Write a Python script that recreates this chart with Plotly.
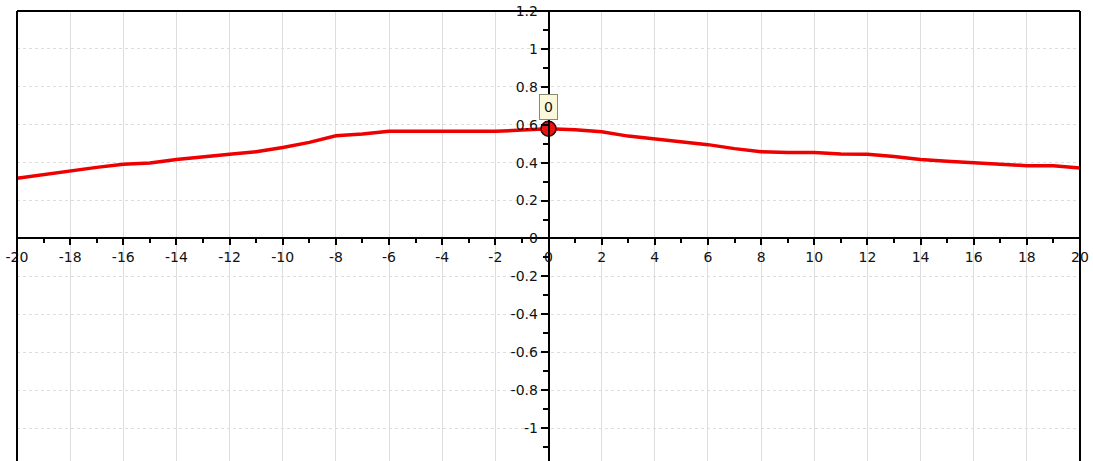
import plotly.graph_objects as go

x_vals = list(range(-20, 21))
y_vals = [0.317, 0.337, 0.358, 0.375, 0.391, 0.398, 0.416, 0.428, 0.444, 0.458,
          0.480, 0.507, 0.542, 0.551, 0.565, 0.565, 0.565, 0.565, 0.565, 0.572,
          0.579,
          0.574, 0.563, 0.540, 0.526, 0.510, 0.495, 0.474, 0.458, 0.453, 0.453,
          0.446, 0.444, 0.433, 0.416, 0.407, 0.398, 0.391, 0.384, 0.383, 0.372]

marker_x = [0]
marker_y = [0.579]
marker_label = "0"

x_ticks = list(range(-20, 21, 2))
x_ticktext = [str(v) for v in x_ticks]
y_ticks = [-1.0, -0.8, -0.6, -0.4, -0.2, 0.0, 0.2, 0.4, 0.6, 0.8, 1.0, 1.2]
y_ticktext = ["-1", "-0.8", "-0.6", "-0.4", "-0.2", "0", "0.2", "0.4", "0.6", "0.8", "1", "1.2"]

X_RANGE = [-20, 20]
Y_RANGE = [-1.174, 1.2]

fig = go.Figure()
fig.add_trace(go.Scatter(x=x_vals, y=y_vals, mode="lines",
                         line=dict(color="#ee0000", width=3.5), hoverinfo="skip",
                         showlegend=False))
fig.add_trace(go.Scatter(x=marker_x, y=marker_y, mode="markers",
                         marker=dict(size=15, color="#ee1111",
                                     line=dict(color="#3a0000", width=1.5)),
                         hoverinfo="skip", showlegend=False, cliponaxis=False))

fig.add_annotation(x=marker_x[0], y=marker_y[0], text=marker_label, showarrow=False,
                   yshift=22, bgcolor="#fbf8dc", bordercolor="#8a8a70", borderwidth=1,
                   borderpad=4, font=dict(family="DejaVu Sans", size=14, color="#111"))

font = dict(family="DejaVu Sans", size=14, color="#111111")
y0_frac = (0 - Y_RANGE[0]) / (Y_RANGE[1] - Y_RANGE[0])
x0_frac = (0 - X_RANGE[0]) / (X_RANGE[1] - X_RANGE[0])

fig.update_layout(
    width=1093, height=461,
    margin=dict(l=17, r=13, t=11, b=0, autoexpand=False),
    paper_bgcolor="white", plot_bgcolor="white",
    xaxis=dict(range=X_RANGE, anchor="free", position=y0_frac, automargin=False,
               tickvals=x_ticks, ticktext=x_ticktext, tickfont=font,
               showline=True, linecolor="black", linewidth=1.5,
               ticks="outside", ticklen=6, tickwidth=1.5, tickcolor="black",
               showgrid=True, gridcolor="#dddddd", gridwidth=1,
               zeroline=False,
               minor=dict(dtick=1, tick0=0, ticks="outside", ticklen=4,
                          tickwidth=1.5, tickcolor="black", showgrid=False)),
    yaxis=dict(range=Y_RANGE, anchor="free", position=x0_frac, automargin=False,
               tickvals=y_ticks, ticktext=y_ticktext, tickfont=font,
               showline=True, linecolor="black", linewidth=1.5,
               ticks="outside", ticklen=7, tickwidth=1.5, tickcolor="black",
               showgrid=True, gridcolor="#dddddd", gridwidth=1, griddash="dot",
               zeroline=False,
               minor=dict(dtick=0.1, tick0=0, ticks="outside", ticklen=5,
                          tickwidth=1.5, tickcolor="black", showgrid=False)),
)

border = dict(color="black", width=2)
fig.add_shape(type="line", xref="paper", yref="paper", x0=0, x1=0, y0=0, y1=1, line=border, layer="above")
fig.add_shape(type="line", xref="paper", yref="paper", x0=1, x1=1, y0=0, y1=1, line=border, layer="above")
fig.add_shape(type="line", xref="paper", yref="paper", x0=0, x1=1, y0=1, y1=1, line=border, layer="above")

fig.write_html("out.html", config={"displayModeBar": False},
               post_script="document.body.style.margin='0';document.body.style.overflow='hidden';")
